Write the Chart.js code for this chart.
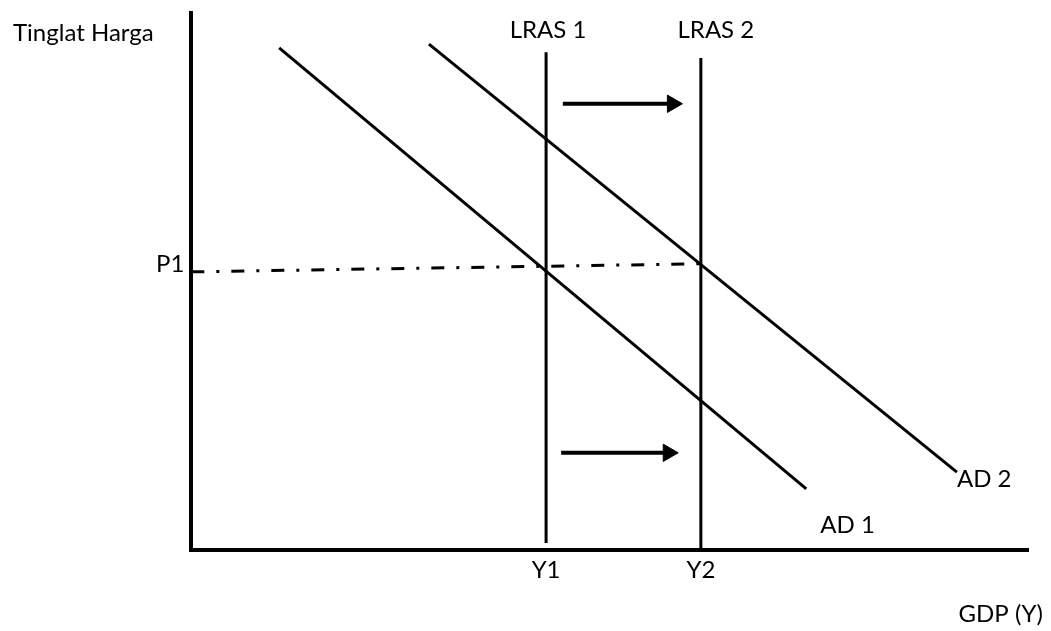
<!DOCTYPE html>
<html>
<head>
<meta charset="utf-8">
<script src="https://cdn.jsdelivr.net/npm/chart.js@4"></script>
<style>
  html, body { margin: 0; padding: 0; background: #fff; }
  canvas { display: block; }
</style>
</head>
<body>
<canvas id="chart" width="1051" height="631"></canvas>
<script>
// Kurva AD-LRAS (pergeseran LRAS dan AD ke kanan)
const FONT = 'Lato, "Open Sans", sans-serif';
const FONT_SIZE = 24;

// tick di sumbu
const xTickLabels = ['Y1', 'Y2'];
const xTickValues = [42.4, 60.9];
const yTickLabels = ['P1'];
const yTickValues = [51.8];

// kurva
const lras1X = [42.4, 42.4];
const lras1Y = [92.7, 1.3];
const lras2X = [60.9, 60.9];
const lras2Y = [91.6, 0];
const ad1X = [10.5, 73.5];
const ad1Y = [93.5, 11.4];
const ad2X = [28.4, 91.5];
const ad2Y = [94.2, 14.5];

// garis harga P1 (titik-strip)
const priceX = [0, 60.9];
const priceY = [51.8, 53.3];

// panah pergeseran
const arrowTopX = [44.4, 57.5];
const arrowTopY = [83.1, 83.1];
const arrowBottomX = [44.2, 57.0];
const arrowBottomY = [18.1, 18.1];

const toPoints = (xs, ys) => xs.map((x, i) => ({ x: x, y: ys[i] }));

const lineSet = (xs, ys, extra) => Object.assign({
  data: toPoints(xs, ys),
  showLine: true,
  borderColor: '#000',
  backgroundColor: '#000',
  borderWidth: 3,
  pointRadius: 0,
  tension: 0,
  clip: false
}, extra || {});

const arrowSet = (xs, ys) => lineSet(xs, ys, {
  borderWidth: 4,
  pointStyle: 'triangle',
  rotation: 90,
  pointRadius: [0, 10],
  pointBorderWidth: 1
});

// teks label kurva dan judul sumbu
const annotations = {
  id: 'annotations',
  afterDatasetsDraw(chart) {
    const { ctx, chartArea: a, scales: { x, y } } = chart;
    ctx.save();
    ctx.fillStyle = '#000';
    ctx.font = FONT_SIZE + 'px ' + FONT;
    ctx.textBaseline = 'middle';

    ctx.textAlign = 'center';
    ctx.fillText('LRAS 1', x.getPixelForValue(lras1X[0]) + 2, a.top + 17);
    ctx.fillText('LRAS 2', x.getPixelForValue(lras2X[0]) + 15, a.top + 17);

    ctx.textAlign = 'left';
    ctx.fillText('AD 1', x.getPixelForValue(ad1X[1]) + 14, y.getPixelForValue(ad1Y[1]) + 36);
    ctx.fillText('AD 2', x.getPixelForValue(ad2X[1]), y.getPixelForValue(ad2Y[1]) + 7);
    ctx.fillText('Tinglat Harga', 13, a.top + 20);

    ctx.textAlign = 'right';
    ctx.fillText('GDP (Y)', a.right + 15, a.bottom + 64);
    ctx.restore();
  }
};

const tickFont = { family: FONT, size: FONT_SIZE, lineHeight: 1 };

new Chart(document.getElementById('chart'), {
  type: 'scatter',
  data: {
    datasets: [
      lineSet(priceX, priceY, { borderDash: [13, 12, 3, 12] }),
      lineSet(lras1X, lras1Y),
      lineSet(lras2X, lras2Y),
      lineSet(ad1X, ad1Y),
      lineSet(ad2X, ad2Y),
      arrowSet(arrowTopX, arrowTopY),
      arrowSet(arrowBottomX, arrowBottomY)
    ]
  },
  options: {
    responsive: false,
    animation: false,
    events: [],
    layout: { padding: { top: 13, left: 149, right: 23, bottom: 41 } },
    plugins: {
      legend: { display: false },
      tooltip: { enabled: false }
    },
    scales: {
      x: {
        type: 'linear',
        min: 0,
        max: 100,
        grid: { display: false, drawTicks: false },
        border: { display: true, color: '#000', width: 4 },
        afterBuildTicks: (scale) => {
          scale.ticks = xTickValues.map(v => ({ value: v }));
        },
        ticks: {
          padding: 8,
          color: '#000',
          font: tickFont,
          callback: (value) => xTickLabels[xTickValues.indexOf(value)]
        }
      },
      y: {
        type: 'linear',
        min: 0,
        max: 100,
        grid: { display: false, drawTicks: false },
        border: { display: true, color: '#000', width: 4 },
        afterBuildTicks: (scale) => {
          scale.ticks = yTickValues.map(v => ({ value: v }));
        },
        afterFit: (scale) => {
          // P1 ada di tengah, tidak perlu ruang ekstra di atas/bawah
          scale.paddingTop = 0;
          scale.paddingBottom = 0;
        },
        ticks: {
          padding: 7,
          labelOffset: -8,
          color: '#000',
          font: tickFont,
          callback: (value) => yTickLabels[yTickValues.indexOf(value)]
        }
      }
    }
  },
  plugins: [annotations]
});
</script>
</body>
</html>
